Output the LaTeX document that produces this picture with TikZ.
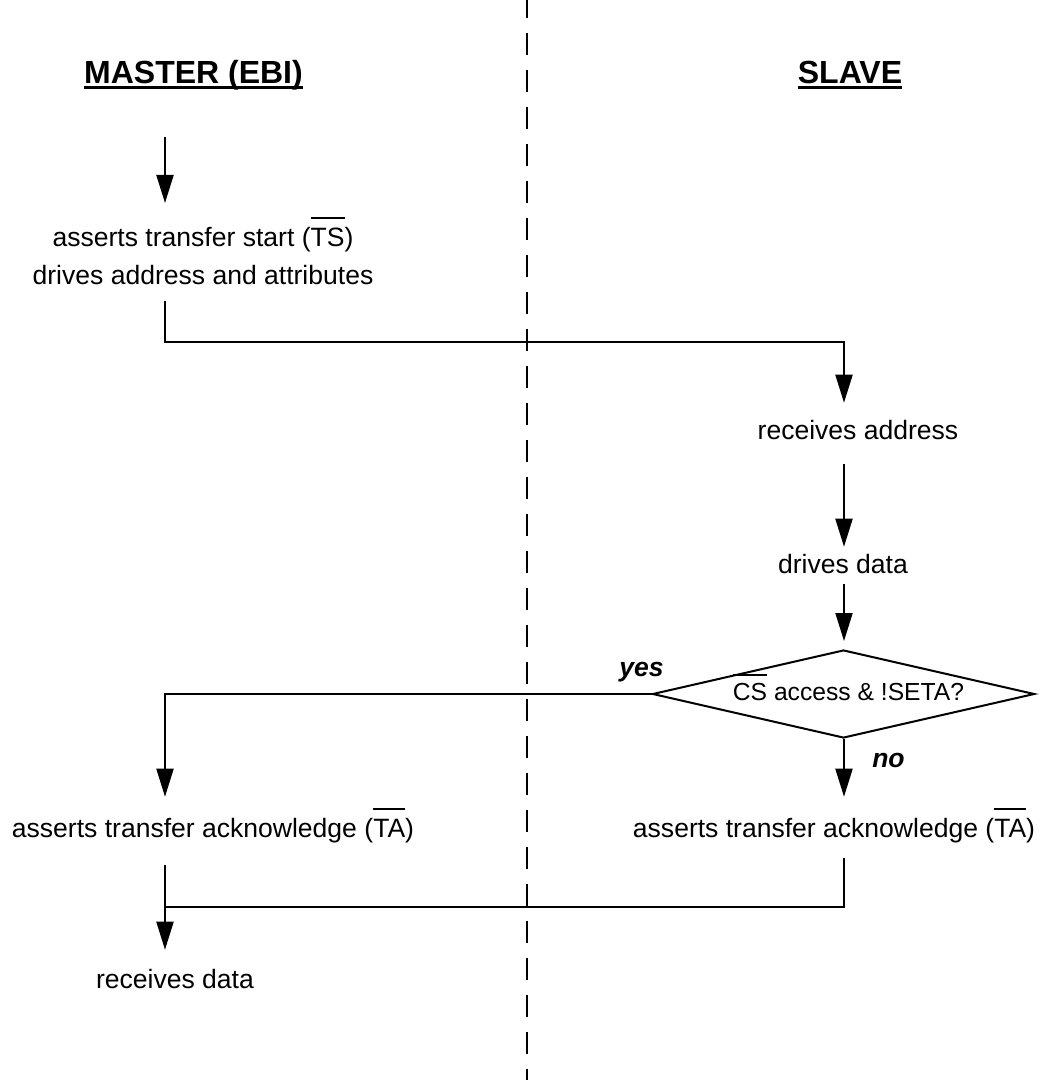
\documentclass[tikz,border=0pt]{standalone}
\usepackage{fontspec}
\setmainfont{Liberation Sans}
\usetikzlibrary{arrows.meta,shapes.geometric}

\newcommand\bodyfont{\fontsize{19.9pt}{28.5pt}\selectfont}
\newcommand\smallbody{\fontsize{18.5pt}{24pt}\selectfont}
\newcommand\headfont{\fontsize{24pt}{28pt}\selectfont\bfseries}
\newsavebox\barbox
% active-low signal: bar drawn above the capitals
\newcommand\ovl[1]{\sbox\barbox{#1}\leavevmode\smash{\rlap{\vrule width\wd\barbox height 1.09em depth -1.015em}}\usebox\barbox}
% heading underline
\newcommand\uln[1]{\sbox\barbox{#1}\leavevmode\smash{\rlap{\vrule width\wd\barbox height -1.5pt depth 4.1pt}}\usebox\barbox}

\tikzset{
  txt/.style={font=\bodyfont, inner sep=0pt, text height=15pt, text depth=4.5pt, anchor=base},
  head/.style={font=\headfont, inner sep=0pt, anchor=base},
  answer/.style={font=\bodyfont\bfseries\itshape, inner sep=0pt, anchor=base west},
  flow/.style={line width=1.5pt},
  arr/.style={flow, -{Triangle[length=21pt,width=12.75pt]}},
  decision/.style={draw, line width=1.5pt, shape=diamond, aspect=4.3,
    minimum width=286.5pt, minimum height=66pt, inner sep=0pt,
    text height=14pt, text depth=4pt, font=\smallbody},
  lane/.style={line width=2pt, dash pattern=on 16.5pt off 11.25pt},
}

\begin{document}
\begin{tikzpicture}[x=0.75pt,y=-0.75pt]
\useasboundingbox (0,0) rectangle (1044,1080);

% column and bus reference points
\coordinate (mx) at (165,137);
\coordinate (sx) at (844,0);
\coordinate (busA) at (0,342);
\coordinate (busB) at (0,907);
\coordinate (laneTop) at (527,-4);
\coordinate (laneBot) at (527,1084);

% lane divider
\draw[lane] (laneTop) -- (laneBot);

% headings
\node[head] (master) at (193.5,84) {\uln{MASTER (EBI)}};
\node[head] (slave) at (850,84) {\uln{SLAVE}};

% master side
\node[font=\bodyfont, inner sep=0pt, align=center, anchor=north] (ts) at (203,226)
  {\rule{0pt}{15pt}asserts transfer start (\ovl{TS})\\drives address and attributes\rule[-4.5pt]{0pt}{4.5pt}};
\node[txt] (ta1) at (213,837) {asserts transfer acknowledge (\ovl{TA})};
\node[txt] (rd) at (175,988) {receives data};

% slave side
\node[txt] (ra) at (858,439) {receives address};
\node[txt] (dd) at (843,573) {drives data};
\node[decision] (dec) at (843.5,694) {\hspace*{7.5pt}\ovl{CS} access \& !SETA?};
\node[txt] (ta2) at (834,837) {asserts transfer acknowledge (\ovl{TA})};
\node[answer] (yes) at (619,676) {yes};
\node[answer] (no) at (872,767) {no};

% connectors
\draw[arr, shorten >=17.25pt] (mx) -- (mx |- ts.north);
\draw[arr, shorten <=7.5pt, shorten >=12pt] (ts.south -| mx) |- (busA -| sx) -- (sx |- ra.north);
\draw[arr, shorten <=14.25pt, shorten >=4.5pt] (sx |- ra.south) -- (sx |- dd.north);
\draw[arr, shorten <=3.75pt, shorten >=6pt] (sx |- dd.south) -- (sx |- dec.north);
\draw[arr, shorten >=15pt] (dec.west) -| (mx |- ta1.north);
\draw[arr, shorten >=15pt] (dec.south -| sx) -- (sx |- ta2.north);
\draw[flow, shorten <=11.25pt] (sx |- ta2.south) |- (busB -| mx);
\draw[arr, shorten <=16.5pt, shorten >=13.5pt] (mx |- ta1.south) -- (mx |- rd.north);
\end{tikzpicture}
\end{document}
